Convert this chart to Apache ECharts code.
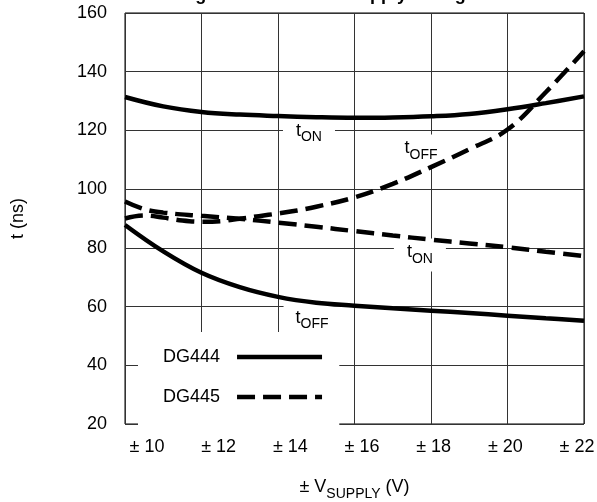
<!DOCTYPE html>
<html>
<head>
<meta charset="utf-8">
<script src="https://cdn.jsdelivr.net/npm/echarts@6/dist/echarts.min.js"></script>
<style>
  html, body { margin: 0; padding: 0; background: #fff; }
  #chart { width: 597px; height: 502px; }
</style>
</head>
<body>
<div id="chart"></div>
<script>
// supply voltage ticks (±V)
const xTicks = [10, 12, 14, 16, 18, 20, 22];
const yTicks = [20, 40, 60, 80, 100, 120, 140, 160];

// DG444 (solid)
const dg444X = [10, 11, 12, 13, 14, 15, 16, 17, 18, 19, 20, 21, 22];
const dg444On = [131.4, 128.2, 126.3, 125.4, 124.9, 124.5, 124.3, 124.4, 124.8, 125.6, 127.2, 129.3, 131.6];
const dg444Off = [87.8, 78.8, 71.5, 66.6, 63.3, 61.3, 60.3, 59.4, 58.6, 57.8, 56.9, 56.0, 55.2];

// DG445 (dashed)
const dg445OnX = [10, 10.5, 11, 12, 13, 14, 15, 16, 17, 18, 19, 20, 21, 22];
const dg445On = [95.8, 93.2, 92.0, 90.9, 89.9, 88.6, 87.2, 85.7, 84.2, 82.8, 81.5, 80.2, 78.7, 77.2];
const dg445OffX = [10, 10.5, 11, 11.5, 12, 12.5, 13, 13.5, 14, 14.5, 15, 16, 17, 18, 19, 20, 21, 22];
const dg445Off = [90.0, 91.0, 90.3, 89.3, 88.9, 89.1, 89.9, 90.8, 91.7, 92.7, 94.0, 97.2, 101.8, 107.5, 113.6, 120.3, 133.0, 147.0];

// curve annotations (t_ON / t_OFF), anchored in data coords
const noteSub = ['ON', 'OFF', 'ON', 'OFF'];
const noteX = [14.81, 17.74, 17.71, 14.89];
const noteY = [119.1, 113.0, 77.6, 55.4];

const FONT = 'Liberation Sans, Arial, sans-serif';
const pairs = (xs, ys) => xs.map((x, i) => [x, ys[i]]);

const chart = echarts.init(document.getElementById('chart'));

const solid = { color: '#000', width: 4.5, type: 'solid' };
const dashed = { color: '#000', width: 4.5, type: [18, 8] };

// main text + subscript
const subRich = (key) => ({
  a: { fontFamily: FONT, fontSize: 18, [key]: '#000', lineHeight: 23, verticalAlign: 'top' },
  s: { fontFamily: FONT, fontSize: 14, [key]: '#000', lineHeight: 23, verticalAlign: 'bottom' }
});

const option = {
  animation: false,
  title: {
    text: 'Switching Time vs. Power Supply Voltage',
    left: 'center',
    top: -19,
    textStyle: { fontFamily: FONT, fontSize: 18, fontWeight: 'bold', color: '#000' }
  },
  grid: [
    { left: 125, right: 13, top: 13, bottom: 78, outerBoundsMode: 'none', show: true, borderColor: '#000', borderWidth: 1 },
    { left: 147, right: 20, top: 13, bottom: 78, outerBoundsMode: 'none', show: false }
  ],
  legend: {
    data: ['DG444', 'DG445'],
    orient: 'vertical',
    left: 138,
    top: 332,
    align: 'right',
    backgroundColor: '#fff',
    padding: [16, 15, 26, 25],
    itemWidth: 85,
    itemHeight: 14,
    itemGap: 22,
    lineStyle: { width: 4.5 },
    itemStyle: { color: 'rgba(0,0,0,0)', borderColor: 'rgba(0,0,0,0)', borderWidth: 0 },
    textStyle: { fontFamily: FONT, fontSize: 18, color: '#000', padding: [0, 12, 0, 0] }
  },
  xAxis: [
    {
      type: 'value', gridIndex: 0, min: 10, max: 22, interval: 2,
      axisLine: { show: false }, axisTick: { show: false }, axisLabel: { show: false },
      splitLine: { show: true, lineStyle: { color: '#333', width: 1 } },
      name: '{a|\u00b1 V}{s|SUPPLY}{a| (V)}',
      nameLocation: 'middle',
      nameGap: 54,
      nameTextStyle: { rich: subRich('color') }
    },
    {
      // tick labels only, laid out as on the original sheet
      type: 'value', gridIndex: 1, min: 10, max: 22, interval: 2,
      axisLine: { show: false }, axisTick: { show: false }, splitLine: { show: false },
      axisLabel: {
        margin: 14, fontFamily: FONT, fontSize: 18, color: '#000',
        formatter: v => (xTicks.includes(v) ? '\u00b1 ' + v : '')
      }
    }
  ],
  yAxis: [
    {
      type: 'value', gridIndex: 0, min: yTicks[0], max: yTicks[yTicks.length - 1], interval: 20,
      axisLine: { show: false }, axisTick: { show: false },
      axisLabel: { margin: 18, fontFamily: FONT, fontSize: 18, color: '#000' },
      splitLine: { show: true, lineStyle: { color: '#333', width: 1 } },
      name: 't (ns)',
      nameLocation: 'middle',
      nameGap: 98,
      nameTextStyle: { fontFamily: FONT, fontSize: 18, color: '#000' }
    },
    { type: 'value', gridIndex: 1, min: 20, max: 160, show: false }
  ],
  series: [
    { name: 'DG444', type: 'line', data: pairs(dg444X, dg444On), smooth: 0.4, symbol: 'none', lineStyle: solid, itemStyle: { color: '#000' } },
    { name: 'DG444', type: 'line', data: pairs(dg444X, dg444Off), smooth: 0.4, symbol: 'none', lineStyle: solid, itemStyle: { color: '#000' } },
    { name: 'DG445', type: 'line', data: pairs(dg445OnX, dg445On), smooth: 0.4, symbol: 'none', lineStyle: dashed, itemStyle: { color: '#000' } },
    { name: 'DG445', type: 'line', data: pairs(dg445OffX, dg445Off), smooth: 0.4, symbol: 'none', lineStyle: dashed, itemStyle: { color: '#000' } }
  ]
};

chart.setOption(option);

const notePad = [[3, 13], [5, 4], [5, 13], [5, 12]];
chart.setOption({
  graphic: noteSub.map((sub, i) => {
    const p = chart.convertToPixel({ gridIndex: 0 }, [noteX[i], noteY[i]]);
    return {
      type: 'text',
      x: p[0], y: p[1], z: 1,
      style: {
        text: '{a|t}{s|' + sub + '}',
        align: 'center', verticalAlign: 'middle',
        backgroundColor: '#fff',
        padding: notePad[i],
        rich: subRich('fill')
      }
    };
  })
});

window.addEventListener('resize', () => chart.resize());
</script>
</body>
</html>
